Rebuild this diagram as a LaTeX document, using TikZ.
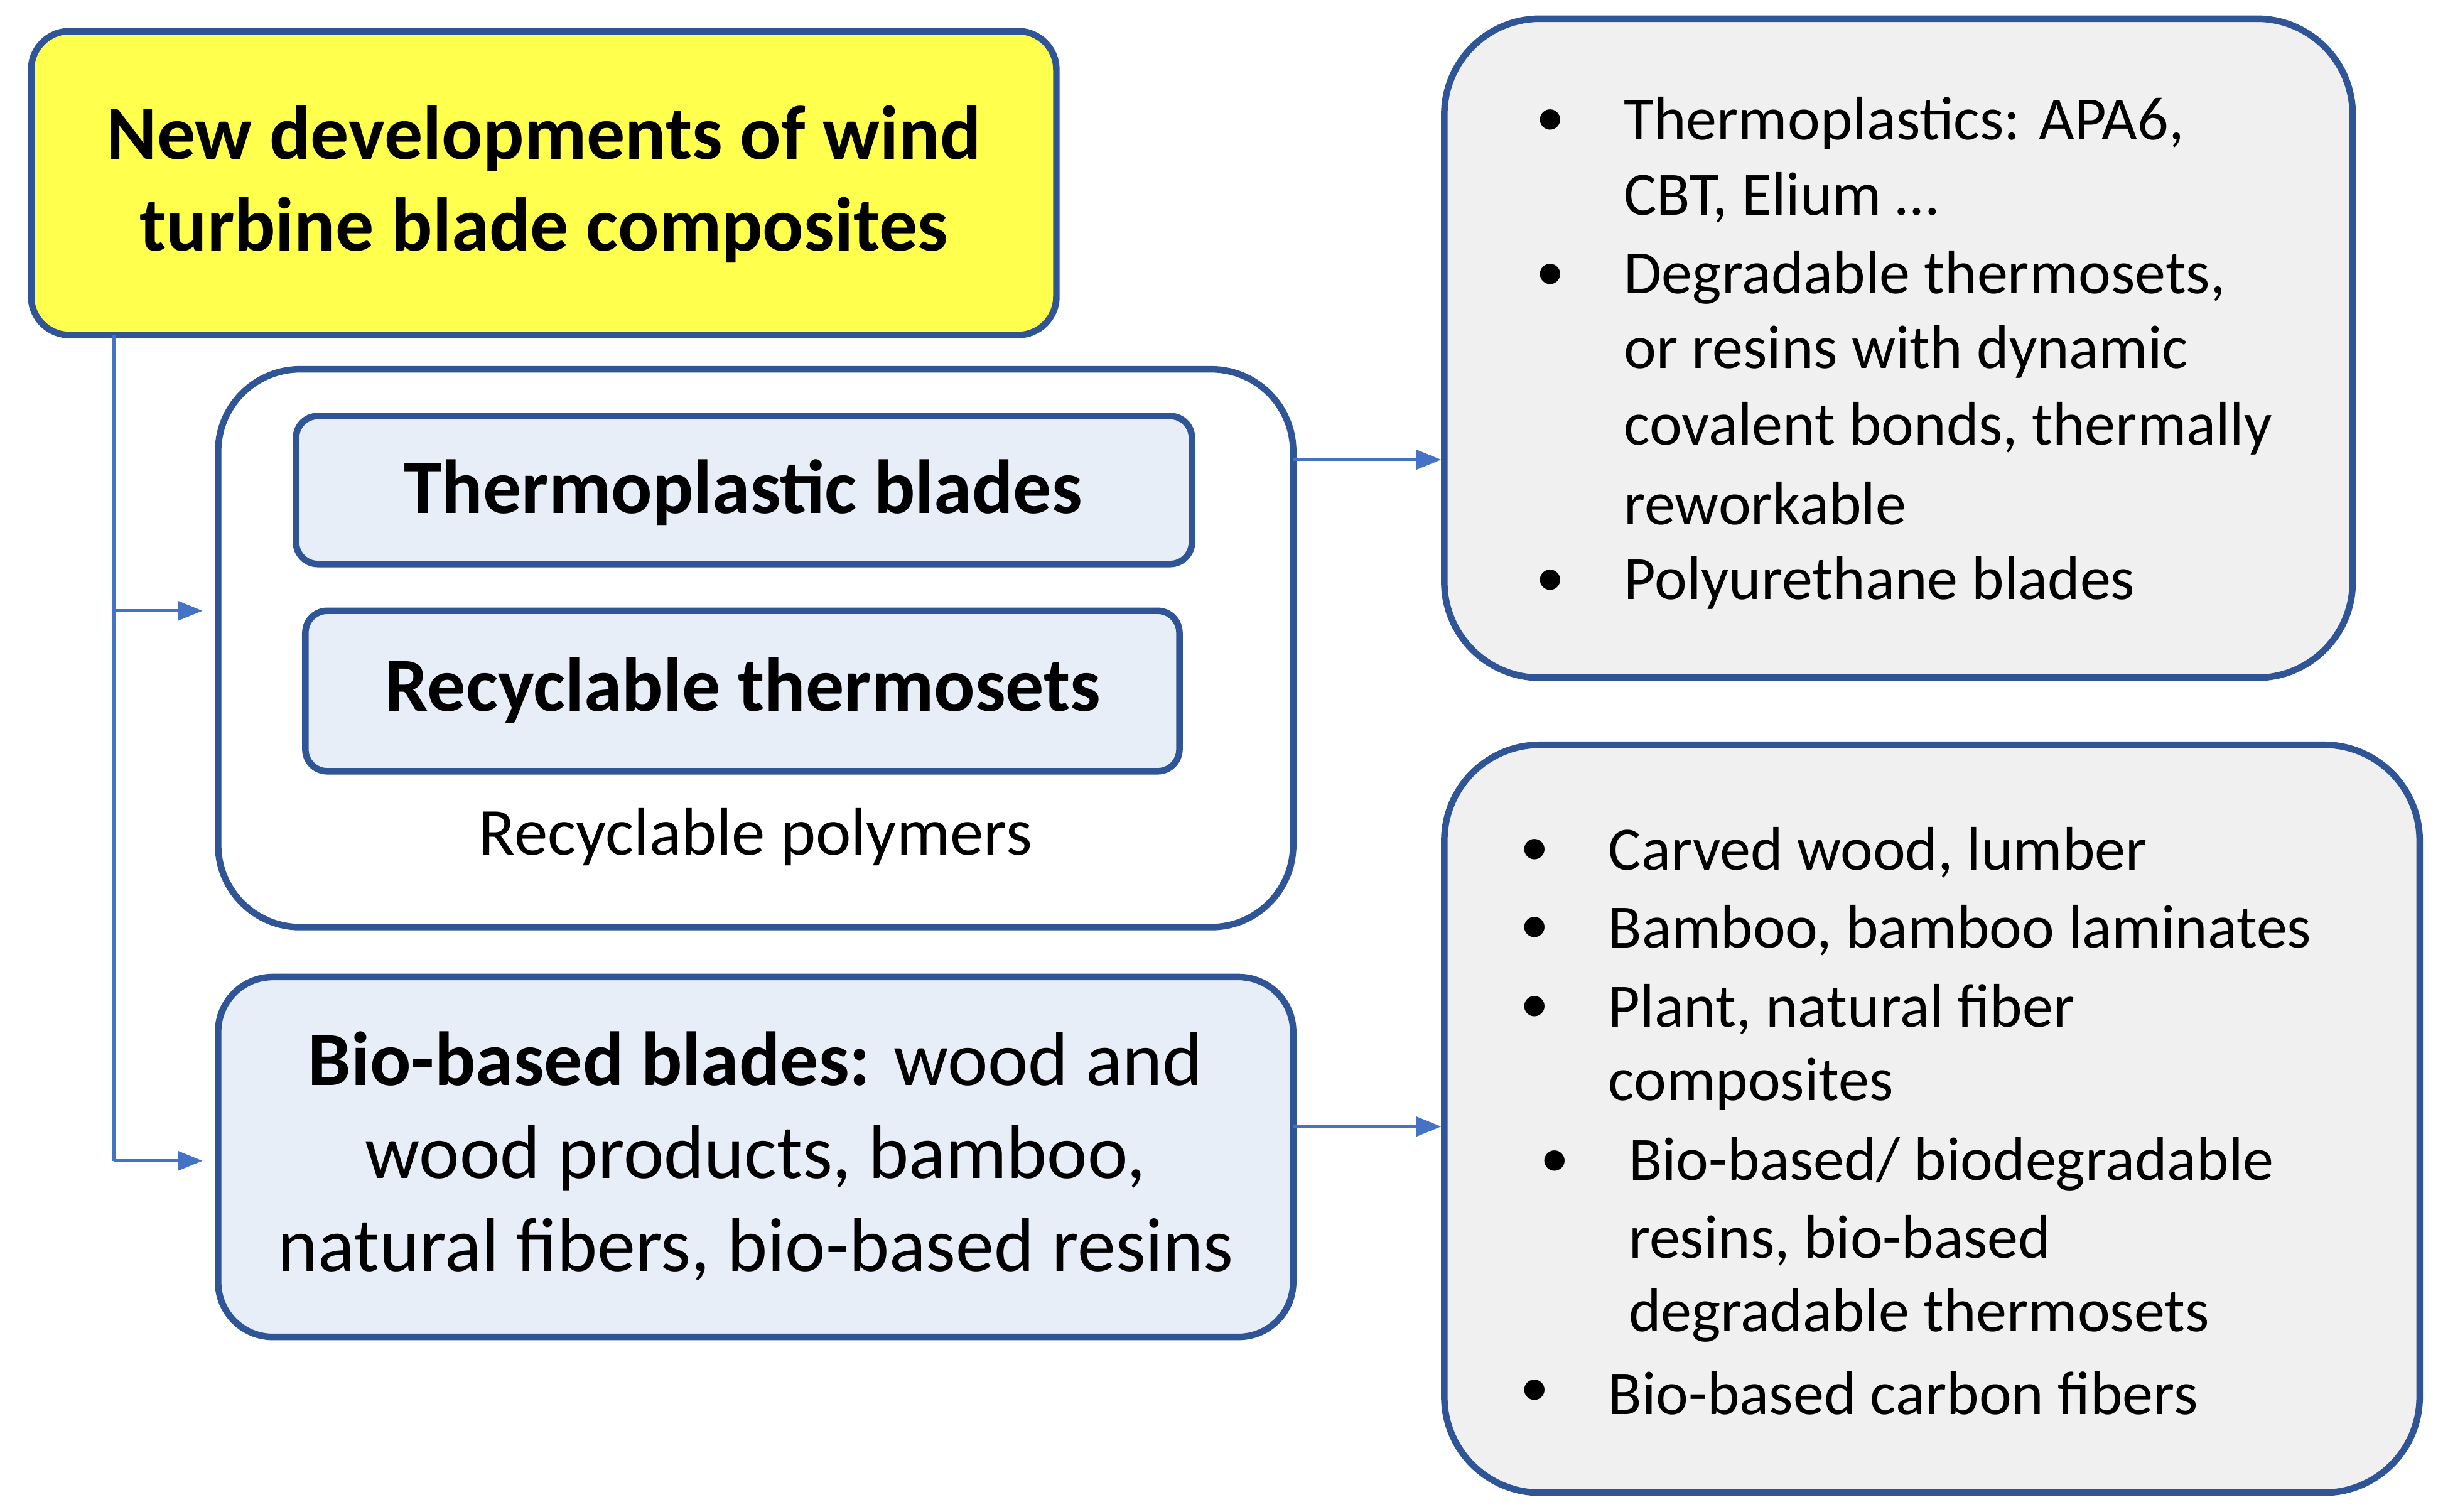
\documentclass[tikz,border=0pt]{standalone}
\usepackage{fontspec}
\setmainfont{Carlito}
\usetikzlibrary{arrows.meta}
\definecolor{bord}{HTML}{2F5597}
\definecolor{conn}{HTML}{4472C4}
\definecolor{lblue}{HTML}{E8EEF7}
\definecolor{lgray}{HTML}{F0F0F0}
\definecolor{yel}{HTML}{FFFF4D}
\begin{document}
\begin{tikzpicture}[x=0.02cm,y=-0.02cm,
  box/.style={draw=bord,line width=2.4pt},
  conn/.style={draw=conn,line width=1.1pt,-{Triangle[length=9pt,width=7pt]}},
  li/.style={anchor=west,inner sep=0pt,font=\fontsize{22.5}{26}\selectfont},
  bul/.style={anchor=center,inner sep=0pt,font=\fontsize{21}{25}\selectfont}]
\useasboundingbox (0,0) rectangle (1568,970);
% boxes
\draw[box,fill=yel,rounded corners=14pt] (20,20) rectangle (678,215);
\node[font=\fontsize{28}{33.5}\selectfont\bfseries,align=center] (title) at (349,118) {New developments of wind\\turbine blade composites};
\draw[box,fill=white,rounded corners=30pt] (140,237) rectangle (830,595);
\node (cont) at (485,416) {};
\draw[box,fill=lblue,rounded corners=8pt] (190,267) rectangle (765,362);
\node[font=\fontsize{28}{32}\selectfont\bfseries] (tb) at (477,316) {Thermoplastic blades};
\draw[box,fill=lblue,rounded corners=8pt] (196,392) rectangle (757,495);
\node[font=\fontsize{28}{32}\selectfont\bfseries] (rt) at (477,443) {Recyclable thermosets};
\node[font=\fontsize{24.5}{28}\selectfont] (rp) at (485,537) {Recyclable polymers};
\draw[box,fill=lblue,rounded corners=20pt] (140,627) rectangle (830,858);
\node[font=\fontsize{28}{34}\selectfont,align=center] (bio) at (485,742) {\textbf{Bio-based blades:} wood and\\wood products, bamboo,\\natural fibers, bio-based resins};
\draw[box,fill=lgray,rounded corners=35pt] (927,12) rectangle (1510,435);
\draw[box,fill=lgray,rounded corners=35pt] (927,478) rectangle (1553,958);
% connectors
\coordinate (t0) at (73,215);
\coordinate (c1) at (73,392);
\coordinate (c2) at (73,745);
\coordinate (a1) at (130,392);
\coordinate (a2) at (130,745);
\draw[draw=conn,line width=1.1pt] (t0) -- (c2);
\draw[conn] (c1) -- (a1);
\draw[conn] (c2) -- (a2);
\coordinate (r1s) at (830,295); \coordinate (r1e) at (925,295);
\coordinate (r2s) at (830,723); \coordinate (r2e) at (925,723);
\draw[conn] (r1s) -- (r1e);
\draw[conn] (r2s) -- (r2e);
% top list
\foreach \y in {79,178,374} \node[bul] at (995,\y) {•};
\node[li] (l1) at (1042,79) {Thermoplastics: APA6,};
\node[li] (l2) at (1042,127) {CBT, Elium …};
\node[li] (l3) at (1042,178) {Degradable thermosets,};
\node[li] (l4) at (1042,226) {or resins with dynamic};
\node[li] (l5) at (1042,275) {covalent bonds, thermally};
\node[li] (l6) at (1042,323) {reworkable};
\node[li] (l7) at (1042,374) {Polyurethane blades};
% bottom list
\foreach \y in {547,597,648,894} \node[bul] at (985,\y) {•};
\node[bul] at (998,747) {•};
\node[li] (m1) at (1032,547) {Carved wood, lumber};
\node[li] (m2) at (1032,597) {Bamboo, bamboo laminates};
\node[li] (m3) at (1032,648) {Plant, natural fiber};
\node[li] (m4) at (1032,696) {composites};
\node[li] (m5) at (1045,747) {Bio-based/ biodegradable};
\node[li] (m6) at (1045,796) {resins, bio-based};
\node[li] (m7) at (1045,844) {degradable thermosets};
\node[li] (m8) at (1032,894) {Bio-based carbon fibers};
\end{tikzpicture}
\end{document}
